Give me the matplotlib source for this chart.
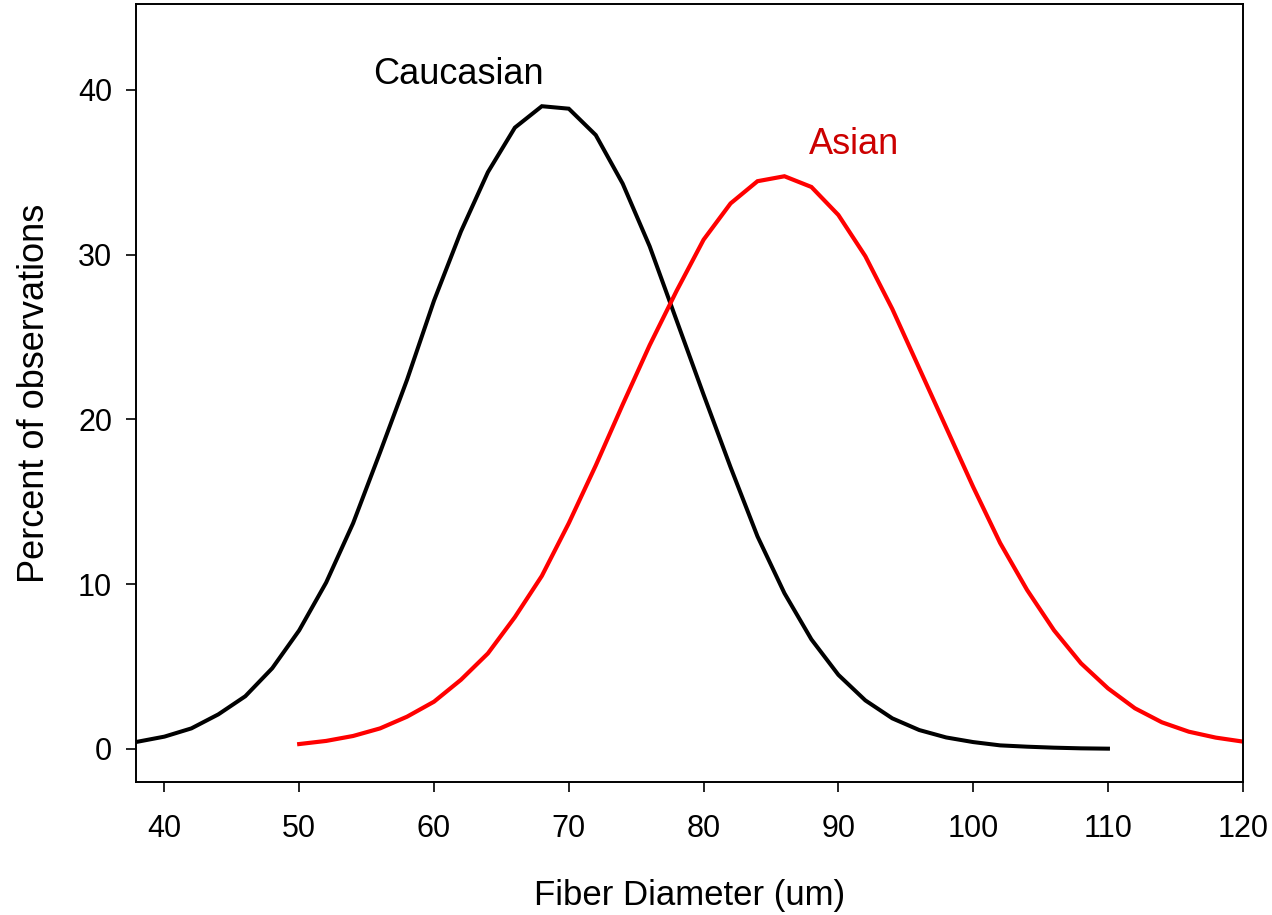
import matplotlib.pyplot as plt

plt.rcParams['font.family'] = ['Liberation Sans', 'DejaVu Sans']

# Caucasian fiber diameter distribution
cau_x = [38, 40, 42, 44, 46, 48, 50, 52, 54, 56, 58, 60, 62, 64, 66, 68, 70, 72, 74,
         76, 78, 80, 82, 84, 86, 88, 90, 92, 94, 96, 98, 100, 102, 104, 106, 108, 110]
cau_y = [0.44, 0.75, 1.25, 2.1, 3.2, 4.9, 7.2, 10.1, 13.7, 18.0, 22.4, 27.2, 31.4, 35.0,
         37.7, 39.0, 38.85, 37.25, 34.3, 30.5, 26.0, 21.5, 17.1, 12.9, 9.45, 6.65, 4.5,
         2.95, 1.86, 1.15, 0.7, 0.42, 0.22, 0.14, 0.08, 0.04, 0.02]

# Asian fiber diameter distribution
asi_x = [50, 52, 54, 56, 58, 60, 62, 64, 66, 68, 70, 72, 74, 76, 78, 80, 82, 84, 86, 88,
         90, 92, 94, 96, 98, 100, 102, 104, 106, 108, 110, 112, 114, 116, 118, 120]
asi_y = [0.3, 0.49, 0.79, 1.25, 1.96, 2.87, 4.2, 5.8, 8.0, 10.5, 13.7, 17.2, 20.9, 24.5,
         27.8, 30.9, 33.1, 34.45, 34.75, 34.1, 32.4, 29.9, 26.7, 23.1, 19.5, 15.9, 12.5,
         9.65, 7.2, 5.2, 3.68, 2.47, 1.62, 1.05, 0.69, 0.45]

fig = plt.figure(figsize=(12.72, 9.15), dpi=100)
ax = fig.add_axes([0.107, 0.1454, 0.870, 0.8502])

ax.plot(cau_x, cau_y, color='black', lw=2.9, solid_joinstyle='miter')
ax.plot(asi_x, asi_y, color='#ff0000', lw=3.0, solid_joinstyle='miter')

ax.text(55.5, 40.9, 'Caucasian', fontsize=26, color='black', va='center', ha='left')
ax.text(87.8, 36.7, 'Asian', fontsize=26, color='#cc0000', va='center', ha='left')

ax.set_xlim(37.9, 120)
ax.set_ylim(-2.0, 45.2)
ax.set_xticks(range(40, 121, 10))
ax.set_yticks(range(0, 41, 10))

ax.tick_params(direction='out', length=7.2, width=1.2, labelsize=22)
ax.tick_params(axis='x', pad=16)
ax.tick_params(axis='y', pad=10)
for s in ax.spines.values():
    s.set_linewidth(1.4)

ax.set_xlabel('Fiber Diameter (um)', fontsize=25, labelpad=25)
ax.set_ylabel('Percent of observations', fontsize=26, labelpad=19)

fig.savefig('out.png', dpi=100)
